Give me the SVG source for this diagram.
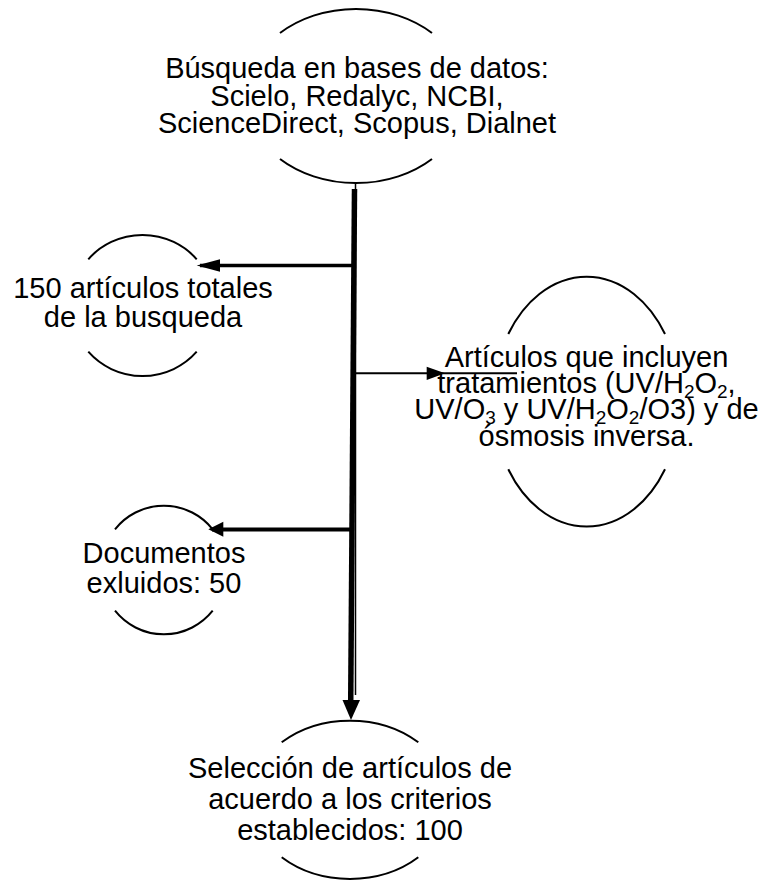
<svg xmlns="http://www.w3.org/2000/svg" width="765" height="880" viewBox="0 0 765 880">
<style>
.arc{fill:none;stroke:#000;stroke-width:2}
.t{font-family:"Liberation Sans",Arial,sans-serif;font-size:29px;fill:#000;text-anchor:middle}
.sub{font-size:19px}
.ln{stroke:#000;fill:none}
</style>
<rect width="765" height="880" fill="#fff"/>
<g id="connectors">
  <line class="ln" x1="355.5" y1="183" x2="355.5" y2="695" stroke-width="1.5"/>
  <line class="ln" x1="354.5" y1="189" x2="350.7" y2="702" stroke-width="5.5"/>
  <polygon points="342.5,700 360,700 351,720" fill="#000"/>
  <line class="ln" x1="352" y1="265.5" x2="200" y2="265.5" stroke-width="3.5"/>
  <polygon points="196.7,265.5 220,259.3 220,271.7" fill="#000"/>
  <line class="ln" x1="356" y1="373.3" x2="517" y2="373.3" stroke-width="2"/>
  <polygon points="445,373.3 426.7,366.7 426.7,380" fill="#000"/>
  <line class="ln" x1="351" y1="529.5" x2="212" y2="529.5" stroke-width="4"/>
  <polygon points="208.3,529.3 223.3,521.7 223.3,536.7" fill="#000"/>
</g>
<g id="node1">
  <path class="arc" d="M280,33 A110,87 0 0 1 432,33"/>
  <path class="arc" d="M280,159 A110,87 0 0 0 432,159"/>
  <text class="t" x="357" y="78">Búsqueda en bases de datos:</text>
  <text class="t" x="357" y="106">Scielo, Redalyc, NCBI,</text>
  <text class="t" x="357" y="133">ScienceDirect, Scopus, Dialnet</text>
</g>
<g id="node2">
  <path class="arc" d="M88.3,259.3 A71.3,69.5 0 0 1 196.7,259.3"/>
  <path class="arc" d="M88.3,351.7 A71.3,69.5 0 0 0 196.7,351.7"/>
  <text class="t" x="143" y="298">150 artículos totales</text>
  <text class="t" x="143" y="327">de la busqueda</text>
</g>
<g id="node3">
  <path class="arc" d="M508.3,334 A93.4,125.8 0 0 1 665,334"/>
  <path class="arc" d="M508.3,469.3 A93.4,125.8 0 0 0 665,469.3"/>
  <text class="t" x="586.5" y="367">Artículos que incluyen</text>
  <text class="t" x="586.5" y="393">tratamientos (UV/H<tspan class="sub" dy="5">2</tspan><tspan dy="-5">O</tspan><tspan class="sub" dy="5">2</tspan><tspan dy="-5">,</tspan></text>
  <text class="t" x="586.5" y="419">UV/O<tspan class="sub" dy="5">3</tspan><tspan dy="-5"> y UV/H</tspan><tspan class="sub" dy="5">2</tspan><tspan dy="-5">O</tspan><tspan class="sub" dy="5">2</tspan><tspan dy="-5">/O3) y de</tspan></text>
  <text class="t" x="586.5" y="446">ósmosis inversa.</text>
</g>
<g id="node4">
  <path class="arc" d="M115,529.3 A63,64.2 0 0 1 212.7,529.3"/>
  <path class="arc" d="M115,610.7 A63,64.2 0 0 0 212.7,610.7"/>
  <text class="t" x="164" y="563">Documentos</text>
  <text class="t" x="164" y="593">exluidos: 50</text>
</g>
<g id="node5">
  <path class="arc" d="M281.7,742.3 A99.3,78.8 0 0 1 418.3,742.3"/>
  <path class="arc" d="M281.7,857.3 A99.3,78.8 0 0 0 418.3,857.3"/>
  <text class="t" x="350" y="778">Selección de artículos de</text>
  <text class="t" x="350" y="809">acuerdo a los criterios</text>
  <text class="t" x="350" y="840">establecidos: 100</text>
</g>
</svg>
